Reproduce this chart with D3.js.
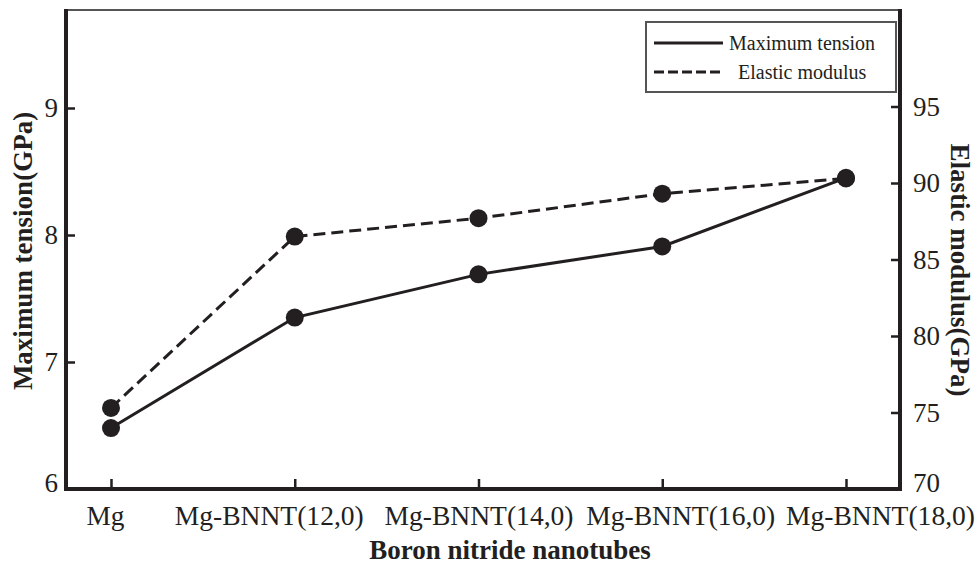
<!DOCTYPE html>
<html>
<head>
<meta charset="utf-8">
<script src="https://cdn.jsdelivr.net/npm/d3@7/dist/d3.min.js"></script>
<style>
  html, body { margin: 0; padding: 0; background: #fff; }
  svg { display: block; }
  text { font-family: "Liberation Serif", "Times New Roman", serif; fill: #231f20; }
</style>
</head>
<body>
<svg id="chart" width="976" height="571"></svg>
<script>
// ---- data ----
const categories = ["Mg", "Mg-BNNT(12,0)", "Mg-BNNT(14,0)", "Mg-BNNT(16,0)", "Mg-BNNT(18,0)"];
const maxTension = [6.48, 7.35, 7.69, 7.91, 8.45];      // GPa (left axis)
const elasticModulus = [75.3, 86.5, 87.7, 89.3, 90.3];  // GPa (right axis)
const leftTicks = [6, 7, 8, 9];
const rightTicks = [70, 75, 80, 85, 90, 95];
const seriesNames = ["Maximum tension", "Elastic modulus"];

// ---- layout ----
const L = 66, R = 900, T = 10, B = 489;
const ink = "#231f20";
const svg = d3.select("#chart");

const x = d3.scalePoint().domain(categories).range([111, 846]);
const yL = d3.scaleLinear().domain([6, 6 + (B - T) / 127]).range([B, T]);
const yR = d3.scaleLinear().domain([70, 70 + (B - T) / 15.3]).range([B, T]);

// top frame line
svg.append("line").attr("x1", L).attr("x2", R).attr("y1", T).attr("y2", T)
  .attr("stroke", "#555").attr("stroke-width", 2);

// axes
const gL = svg.append("g").attr("transform", `translate(${L},0)`)
  .call(d3.axisLeft(yL).tickValues(leftTicks).tickFormat(d3.format("d"))
    .tickSizeInner(-9).tickSizeOuter(0).tickPadding(8));
const gR = svg.append("g").attr("transform", `translate(${R},0)`)
  .call(d3.axisRight(yR).tickValues(rightTicks).tickFormat(d3.format("d"))
    .tickSizeInner(-9).tickSizeOuter(0).tickPadding(13));
const gB = svg.append("g").attr("transform", `translate(0,${B})`)
  .call(d3.axisBottom(x).tickSizeInner(-10).tickSizeOuter(0).tickPadding(17));

[gL, gR, gB].forEach(g => {
  g.select(".domain").attr("stroke", ink).attr("stroke-width", 4);
  g.selectAll(".tick line").attr("stroke", ink).attr("stroke-width", 2.5);
  g.selectAll(".tick text").attr("font-size", 27).attr("fill", ink)
    .style("font-family", "'Liberation Serif', serif");
});
// axis lines meet at the frame corners
gB.select(".domain").attr("d", `M${L - 2},0H${R + 2}`);
gL.select(".domain").attr("d", `M0,${T - 1}V${B}`);
gR.select(".domain").attr("d", `M0,${T - 1}V${B}`);
// corner ticks (6 and 70 sit on the bottom axis)
gL.selectAll(".tick line").filter(d => d === 6).remove();
gR.selectAll(".tick line").filter(d => d === 70).remove();
gL.selectAll(".tick text").filter(d => d === 6).attr("dy", "0.1em");
gR.selectAll(".tick text").filter(d => d === 70).attr("dy", "0.1em");

// manual label nudges (labels are wider than tick spacing in the original)
const labelShift = [-6, -26, 0, 18, 34];
gB.selectAll(".tick text")
  .attr("dx", (d, i) => labelShift[i])
  .attr("textLength", (d, i) => i === 0 ? 38 : 189)
  .attr("lengthAdjust", "spacingAndGlyphs");

// lines
const lineT = d3.line().x((d, i) => x(categories[i])).y(d => yL(d));
const lineE = d3.line().x((d, i) => x(categories[i])).y(d => yR(d));

svg.append("path").datum(elasticModulus).attr("d", lineE)
  .attr("fill", "none").attr("stroke", ink).attr("stroke-width", 3)
  .attr("stroke-dasharray", "12,6");
svg.append("path").datum(maxTension).attr("d", lineT)
  .attr("fill", "none").attr("stroke", ink).attr("stroke-width", 3);

svg.append("g").selectAll("circle").data(elasticModulus).join("circle")
  .attr("cx", (d, i) => x(categories[i])).attr("cy", d => yR(d)).attr("r", 9).attr("fill", ink);
svg.append("g").selectAll("circle").data(maxTension).join("circle")
  .attr("cx", (d, i) => x(categories[i])).attr("cy", d => yL(d)).attr("r", 9).attr("fill", ink);

// axis titles
svg.append("text").text("Boron nitride nanotubes")
  .attr("x", 510).attr("y", 559).attr("text-anchor", "middle")
  .attr("font-size", 27).attr("font-weight", "bold");
svg.append("text").text("Maximum tension(GPa)")
  .attr("transform", "translate(32,251) rotate(-90)").attr("text-anchor", "middle")
  .attr("font-size", 27).attr("font-weight", "bold");
svg.append("text").text("Elastic modulus(GPa)")
  .attr("transform", "translate(951,270) rotate(90)").attr("text-anchor", "middle")
  .attr("font-size", 27).attr("font-weight", "bold");

// legend
const lg = svg.append("g");
lg.append("rect").attr("x", 646).attr("y", 22).attr("width", 250).attr("height", 70)
  .attr("fill", "#fff").attr("stroke", "#555").attr("stroke-width", 2);
const legendRows = [
  { name: seriesNames[0], dash: null, y: 43, tx: 729 },
  { name: seriesNames[1], dash: "10,4", y: 72, tx: 738 }
];
legendRows.forEach(r => {
  lg.append("line").attr("x1", 654).attr("x2", 723).attr("y1", r.y).attr("y2", r.y)
    .attr("stroke", ink).attr("stroke-width", 3).attr("stroke-dasharray", r.dash);
  lg.append("text").text(r.name).attr("x", r.tx).attr("y", r.y + 7)
    .attr("font-size", 20);
});
</script>
</body>
</html>
